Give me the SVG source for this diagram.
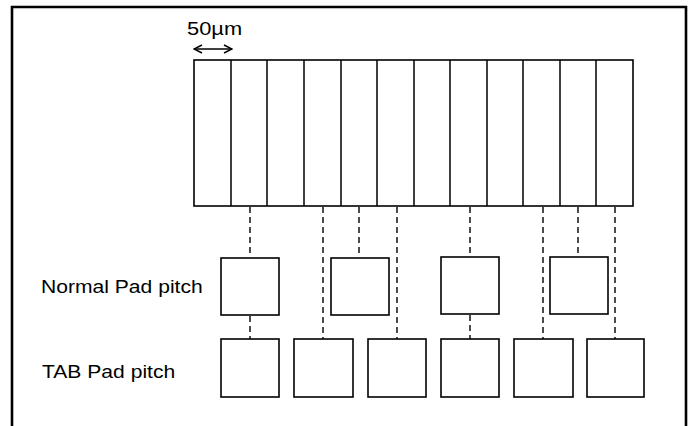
<svg xmlns="http://www.w3.org/2000/svg" width="691" height="426" viewBox="0 0 691 426">
<style>
.frame{fill:none;stroke:#000;stroke-width:2.6}
.box{fill:#fff;stroke:#000;stroke-width:1.6}
.col{stroke:#000;stroke-width:1.5}
.dash{fill:none;stroke:#000;stroke-width:1.4;stroke-dasharray:6 4}
.lbl{font-family:"Liberation Sans",Arial,sans-serif;fill:#000}
.arr{fill:none;stroke:#000;stroke-width:1.4}
</style>
<defs>
<marker id="ah" viewBox="0 0 10 10" refX="9" refY="5" markerWidth="10" markerHeight="10" orient="auto-start-reverse" markerUnits="userSpaceOnUse">
<path d="M1,1 L9,5 L1,9" fill="none" stroke="#000" stroke-width="1.4"/>
</marker>
</defs>
<rect width="691" height="426" fill="#fff"/>
<path class="frame" d="M12,426 V7 H686 V426"/>
<g id="scale">
<text class="lbl" font-size="19" transform="translate(187,35) scale(1.15,1)">50µm</text>
<line class="arr" x1="194" y1="49" x2="232" y2="49" marker-start="url(#ah)" marker-end="url(#ah)"/>
</g>
<g id="strip">
<rect class="box" x="194" y="60" width="439" height="146"/>
<line class="col" x1="231" y1="60" x2="231" y2="206"/>
<line class="col" x1="267" y1="60" x2="267" y2="206"/>
<line class="col" x1="304" y1="60" x2="304" y2="206"/>
<line class="col" x1="341" y1="60" x2="341" y2="206"/>
<line class="col" x1="377" y1="60" x2="377" y2="206"/>
<line class="col" x1="414" y1="60" x2="414" y2="206"/>
<line class="col" x1="450" y1="60" x2="450" y2="206"/>
<line class="col" x1="487" y1="60" x2="487" y2="206"/>
<line class="col" x1="523" y1="60" x2="523" y2="206"/>
<line class="col" x1="560" y1="60" x2="560" y2="206"/>
<line class="col" x1="596" y1="60" x2="596" y2="206"/>
</g>
<g id="connectors">
<line class="dash" x1="250" y1="207" x2="250" y2="257"/>
<line class="dash" x1="250" y1="316" x2="250" y2="339"/>
<line class="dash" x1="323" y1="207" x2="323" y2="339"/>
<line class="dash" x1="359" y1="207" x2="359" y2="257"/>
<line class="dash" x1="397" y1="207" x2="397" y2="339"/>
<line class="dash" x1="470" y1="207" x2="470" y2="257"/>
<line class="dash" x1="470" y1="315" x2="470" y2="339"/>
<line class="dash" x1="543" y1="207" x2="543" y2="339"/>
<line class="dash" x1="578" y1="207" x2="578" y2="257"/>
<line class="dash" x1="615" y1="207" x2="615" y2="339"/>
</g>
<g id="normal-label"><text class="lbl" font-size="18.5" transform="translate(41,293) scale(1.14,1)">Normal Pad pitch</text></g>
<g id="tab-label"><text class="lbl" font-size="18.5" transform="translate(42,378) scale(1.14,1)">TAB Pad pitch</text></g>
<g id="normal-pad-1"><rect class="box" x="221" y="258" width="58" height="57"/></g>
<g id="normal-pad-2"><rect class="box" x="331" y="258" width="58" height="57"/></g>
<g id="normal-pad-3"><rect class="box" x="441" y="257" width="58" height="57"/></g>
<g id="normal-pad-4"><rect class="box" x="550" y="257" width="58" height="57"/></g>
<g id="tab-pad-1"><rect class="box" x="221" y="339" width="58" height="58"/></g>
<g id="tab-pad-2"><rect class="box" x="294" y="339" width="59" height="58"/></g>
<g id="tab-pad-3"><rect class="box" x="368" y="339" width="58" height="58"/></g>
<g id="tab-pad-4"><rect class="box" x="441" y="339" width="58" height="58"/></g>
<g id="tab-pad-5"><rect class="box" x="514" y="339" width="59" height="58"/></g>
<g id="tab-pad-6"><rect class="box" x="587" y="339" width="57" height="58"/></g>
</svg>
